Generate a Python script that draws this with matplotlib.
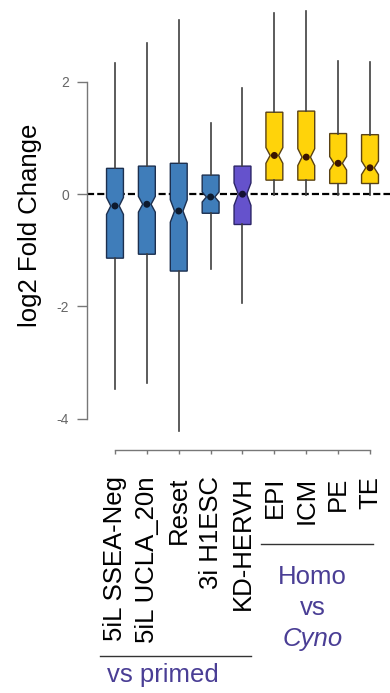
import matplotlib
matplotlib.use("Agg")
from matplotlib import pyplot as plt

plt.rcParams['font.family'] = ['Liberation Sans', 'DejaVu Sans']

labels = ['5iL SSEA-Neg', '5iL UCLA_20n', 'Reset', '3i H1ESC', 'KD-HERVH',
          'EPI', 'ICM', 'PE', 'TE']
med = [-0.21, -0.18, -0.30, -0.05, 0.00, 0.69, 0.66, 0.55, 0.47]
q1 = [-1.14, -1.07, -1.37, -0.34, -0.54, 0.25, 0.25, 0.19, 0.19]
q3 = [0.46, 0.50, 0.55, 0.34, 0.50, 1.46, 1.48, 1.08, 1.06]
whislo = [-3.47, -3.36, -4.22, -1.33, -1.93, -0.02, -0.02, -0.02, -0.02]
whishi = [2.33, 2.69, 3.10, 1.27, 1.89, 3.22, 3.26, 2.38, 2.35]
notch = [0.15, 0.14, 0.20, 0.09, 0.20, 0.14, 0.15, 0.12, 0.12]
group = ['nv', 'nv', 'nv', 'nv', 'kd', 'em', 'em', 'em', 'em']

fills = {'nv': '#3f7dba', 'kd': '#6552cc', 'em': '#ffd30a'}
edges = {'nv': '#1c2f4f', 'kd': '#2b2466', 'em': '#5a4214'}
dots = {'nv': '#0d1a2e', 'kd': '#141033', 'em': '#3a1500'}

W, H = 390, 693
fig = plt.figure(figsize=(W / 100, H / 100), dpi=100)
ax = fig.add_axes([87 / W, (H - 450) / H, (W - 87) / W, 450 / H])

stats = []
for i in range(len(labels)):
    stats.append(dict(med=med[i], q1=q1[i], q3=q3[i], whislo=whislo[i],
                      whishi=whishi[i], cilo=med[i] - notch[i],
                      cihi=med[i] + notch[i], fliers=[]))
pos = list(range(1, len(labels) + 1))

ax.axhline(0, color='black', lw=1.6, dashes=(3.2, 1.4), zorder=1)

bp = ax.bxp(stats, positions=pos, widths=0.53, shownotches=True,
            patch_artist=True, showcaps=False, showfliers=False,
            whiskerprops=dict(color='#404040', lw=1.2),
            medianprops=dict(linestyle='none'),
            boxprops=dict(lw=1.0), zorder=2)
for i, b in enumerate(bp['boxes']):
    b.set_facecolor(fills[group[i]])
    b.set_edgecolor(edges[group[i]])
ax.scatter(pos, med, s=16, c=[dots[g] for g in group], zorder=3)

ax.set_xlim(1 - 28 / 31.9, 9 + 20 / 31.9)
ax.set_ylim(-256 / 56.17, 194.3 / 56.17)

for s in ['top', 'right']:
    ax.spines[s].set_visible(False)
ax.spines['left'].set_bounds(-4, 2)
ax.spines['bottom'].set_bounds(1, 9)
for s in ['left', 'bottom']:
    ax.spines[s].set_color('#777777')
    ax.spines[s].set_linewidth(1.0)

ax.set_yticks([-4, -2, 0, 2])
ax.set_yticklabels(['-4', '-2', '0', '2'])
ax.tick_params(axis='y', length=7, width=1.0, color='#777777',
               labelcolor='#666666', labelsize=10, pad=6)
ax.set_xticks(pos)
ax.set_xticklabels(labels, rotation=90, fontsize=18.5)
ax.tick_params(axis='x', length=3, width=1.0, color='#777777', pad=16)

ax.set_ylabel('log2 Fold Change', fontsize=18.5)
ax.yaxis.set_label_coords(-45 / 303, 0.5)

tr = ax.get_xaxis_transform()
purple = '#4a3e95'
ax.plot([0.53, 5.26], [-0.458, -0.458], color='#333333', lw=1.0,
        transform=tr, clip_on=False)
ax.text(2.5, -0.5, 'vs primed', color=purple, fontsize=18.5,
        ha='center', va='center', transform=tr)
ax.plot([5.58, 9.09], [-0.209, -0.209], color='#333333', lw=1.0,
        transform=tr, clip_on=False)
ax.text(7.2, -0.282, 'Homo', color=purple, fontsize=18.5,
        ha='center', va='center', transform=tr)
ax.text(7.2, -0.351, 'vs', color=purple, fontsize=18.5,
        ha='center', va='center', transform=tr)
ax.text(7.2, -0.42, 'Cyno', color=purple, fontsize=18.5, style='italic',
        ha='center', va='center', transform=tr)

fig.savefig('out.png', dpi=100)
